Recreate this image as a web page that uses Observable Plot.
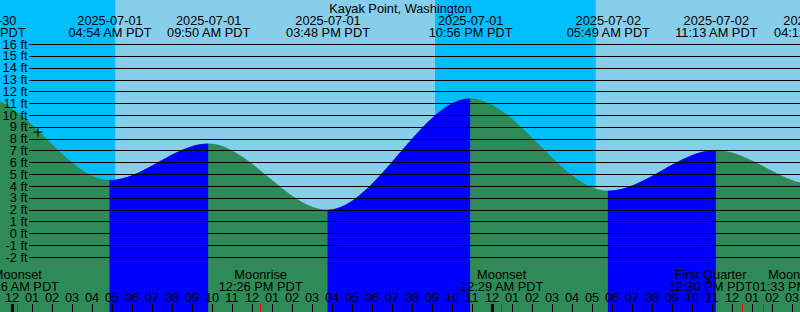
<!DOCTYPE html>
<html>
<head>
<meta charset="utf-8">
<script src="https://cdn.jsdelivr.net/npm/d3@7"></script>
<script src="https://cdn.jsdelivr.net/npm/@observablehq/plot@0.6"></script>
<style>
  html, body { margin: 0; padding: 0; background: #fff; overflow: hidden; }
  #chart svg { display: block; }
</style>
</head>
<body>
<div id="chart"></div>
<script>
// ---------------- data (local PDT clock times) ----------------
const title = "Kayak Point, Washington";

// tide extremes; the first and last entries lie outside the visible window (estimates)
const tideTimes = ["2025-06-30T16:40", "2025-06-30T22:35", "2025-07-01T04:54", "2025-07-01T09:50",
                   "2025-07-01T15:48", "2025-07-01T22:56", "2025-07-02T05:49", "2025-07-02T11:13",
                   "2025-07-02T16:12", "2025-07-02T23:30"];
const tideFeet  = [1.0, 11.5, 4.5, 7.6, 2.0, 11.4, 3.6, 7.05, 4.1, 10.5];

// sun events (start of day / night periods)
const sunTimes  = ["2025-06-30T05:12", "2025-06-30T21:11", "2025-07-01T05:12", "2025-07-01T21:10",
                   "2025-07-02T05:13", "2025-07-02T21:10"];
const sunKinds  = ["sunrise", "sunset", "sunrise", "sunset", "sunrise", "sunset"];

// moon events
const moonTimes  = ["2025-07-01T00:16", "2025-07-01T12:26", "2025-07-02T00:29", "2025-07-02T12:30", "2025-07-02T13:33"];
const moonEvents = ["Moonset", "Moonrise", "Moonset", "First Quarter", "Moonrise"];

// height grid (ft)
const feetTicks = [-2, -1, 0, 1, 2, 3, 4, 5, 6, 7, 8, 9, 10, 11, 12, 13, 14, 15, 16];

// current-time marker
const nowTime = "2025-07-01T01:18";
const nowFeet = 8.6;

// visible window
const windowStart = "2025-06-30T23:25:30";
const windowEnd   = "2025-07-02T15:25:30";
const yDomain = [-6.65, 19.72];

// ---------------- styling ----------------
const NIGHT = "#00BFFF", DAY = "#87CEEB", EBB = "#2E8B57", FLOOD = "#0000FF";
const FONT = "Liberation Sans";
const FS = 12.8;
const W = 800, H = 312;

// ---------------- build ----------------
const parse = s => new Date(s + (s.length === 16 ? ":00Z" : "Z"));
const tides = tideTimes.map((t, i) => ({time: parse(t), ft: tideFeet[i]}));
const sun = sunTimes.map((t, i) => ({time: parse(t), kind: sunKinds[i]}));

const sky = [];
for (let i = 0; i < sun.length - 1; i++) {
  sky.push({x1: sun[i].time, x2: sun[i + 1].time, night: sun[i].kind === "sunset"});
}
const floods = [];
for (let i = 0; i < tides.length - 1; i++) {
  if (tides[i + 1].ft > tides[i].ft) floods.push({x1: tides[i].time, x2: tides[i + 1].time});
}

const xDomain = [parse(windowStart), parse(windowEnd)];
const xsc = Plot.scale({x: {type: "utc", domain: xDomain, range: [0, W]}});

const hours = d3.utcHour.range(parse("2025-07-01T00:00"), parse("2025-07-02T16:00"));
const midnights = hours.filter(d => d.getUTCHours() === 0);
const otherHours = hours.filter(d => d.getUTCHours() !== 0);

const fmtDate = d3.utcFormat("%Y-%m-%d");
const fmtTime = d => d3.utcFormat("%I:%M %p")(d) + " PDT";
const fmtHour = d3.utcFormat("%I");

// moon labels: push overlapping labels apart (as the original chart does)
const ctx = document.createElement("canvas").getContext("2d");
ctx.font = `${FS}px "${FONT}"`;
const moon = moonTimes.map((t, i) => {
  const time = parse(t);
  const w = Math.max(ctx.measureText(moonEvents[i]).width, ctx.measureText(fmtTime(time)).width);
  return {time, name: moonEvents[i], px: xsc.apply(time), w};
});
for (let iter = 0; iter < 10; iter++) {
  for (let i = 0; i < moon.length - 1; i++) {
    const a = moon[i], b = moon[i + 1];
    const overlap = (a.px + a.w / 2) - (b.px - b.w / 2);
    if (overlap > 0) { a.px -= overlap / 2; b.px += overlap / 2; }
  }
}
moon.forEach(d => d.labelTime = xsc.invert(d.px));

const txt = {fontFamily: FONT, fontSize: FS, fill: "black"};

const plot = Plot.plot({
  width: W,
  height: H,
  margin: 0,
  x: {type: "utc", domain: xDomain, axis: null},
  y: {domain: yDomain, axis: null},
  style: {fontFamily: FONT, fontSize: FS + "px", background: DAY, overflow: "hidden"},
  marks: [
    Plot.rect(sky.filter(d => d.night), {x1: "x1", x2: "x2", fill: NIGHT}),
    Plot.rect(sky.filter(d => !d.night), {x1: "x1", x2: "x2", fill: DAY}),
    Plot.areaY(tides, {x: "time", y1: yDomain[0], y2: "ft", curve: "monotone-x", fill: EBB}),
    Plot.areaY(tides, {x: "time", y1: yDomain[0], y2: "ft", curve: "monotone-x", fill: FLOOD}),
    Plot.ruleY(feetTicks, {y: d => d, stroke: "black", strokeWidth: 1, insetLeft: 29, shapeRendering: "crispEdges"}),
    Plot.text(feetTicks, {...txt, y: d => d, text: d => `${d} ft`, frameAnchor: "left", dx: 27, textAnchor: "end"}),
    Plot.dot([{time: parse(nowTime), ft: nowFeet}], {x: "time", y: "ft", symbol: "plus", r: 3, stroke: "black", strokeWidth: 1}),
    // title
    Plot.text([title], {...txt, text: d => d, frameAnchor: "top", lineAnchor: "bottom", dy: 12}),
    // tide extreme labels
    Plot.text(tides, {...txt, x: "time", text: d => fmtDate(d.time), frameAnchor: "top", lineAnchor: "bottom", dy: 24}),
    Plot.text(tides, {...txt, x: "time", text: d => fmtTime(d.time), frameAnchor: "top", lineAnchor: "bottom", dy: 36}),
    // moon labels
    Plot.text(moon, {...txt, x: "labelTime", text: "name", frameAnchor: "top", lineAnchor: "bottom", dy: 278}),
    Plot.text(moon, {...txt, x: "labelTime", text: d => fmtTime(d.time), frameAnchor: "top", lineAnchor: "bottom", dy: 290}),
    // hour labels and ticks
    Plot.text(hours, {...txt, x: d => d, text: d => fmtHour(d), frameAnchor: "top", lineAnchor: "bottom", dy: 301}),
    Plot.ruleX(otherHours, {x: d => d, stroke: "black", strokeWidth: 1, insetTop: 304, shapeRendering: "crispEdges"}),
    Plot.ruleX(midnights, {x: d => d, stroke: "black", strokeWidth: 3, insetTop: 304, shapeRendering: "crispEdges"}),
    Plot.ruleX(moon, {x: "time", stroke: "red", strokeWidth: 1, insetTop: 304, shapeRendering: "crispEdges"})
  ]
});

// clip the flood-coloured area to the rising-tide intervals, using the plot's own x scale
const xs = plot.scale("x");
const svgNS = "http://www.w3.org/2000/svg";
const defs = document.createElementNS(svgNS, "defs");
const clip = document.createElementNS(svgNS, "clipPath");
clip.setAttribute("id", "flood-clip");
clip.setAttribute("clipPathUnits", "userSpaceOnUse");
for (const f of floods) {
  const a = xs.apply(f.x1), b = xs.apply(f.x2);
  const r = document.createElementNS(svgNS, "rect");
  r.setAttribute("x", a);
  r.setAttribute("y", 0);
  r.setAttribute("width", b - a);
  r.setAttribute("height", H);
  clip.appendChild(r);
}
defs.appendChild(clip);
plot.appendChild(defs);
let floodG = null;
for (const g of plot.querySelectorAll("g")) {
  const f = (g.getAttribute("fill") || "").toLowerCase();
  if (f === FLOOD.toLowerCase() && g.querySelector("path")) floodG = g;
}
if (!floodG) floodG = plot.querySelectorAll('g[aria-label="area"]')[1];
if (floodG) floodG.setAttribute("clip-path", "url(#flood-clip)");

document.getElementById("chart").appendChild(plot);
</script>
</body>
</html>
